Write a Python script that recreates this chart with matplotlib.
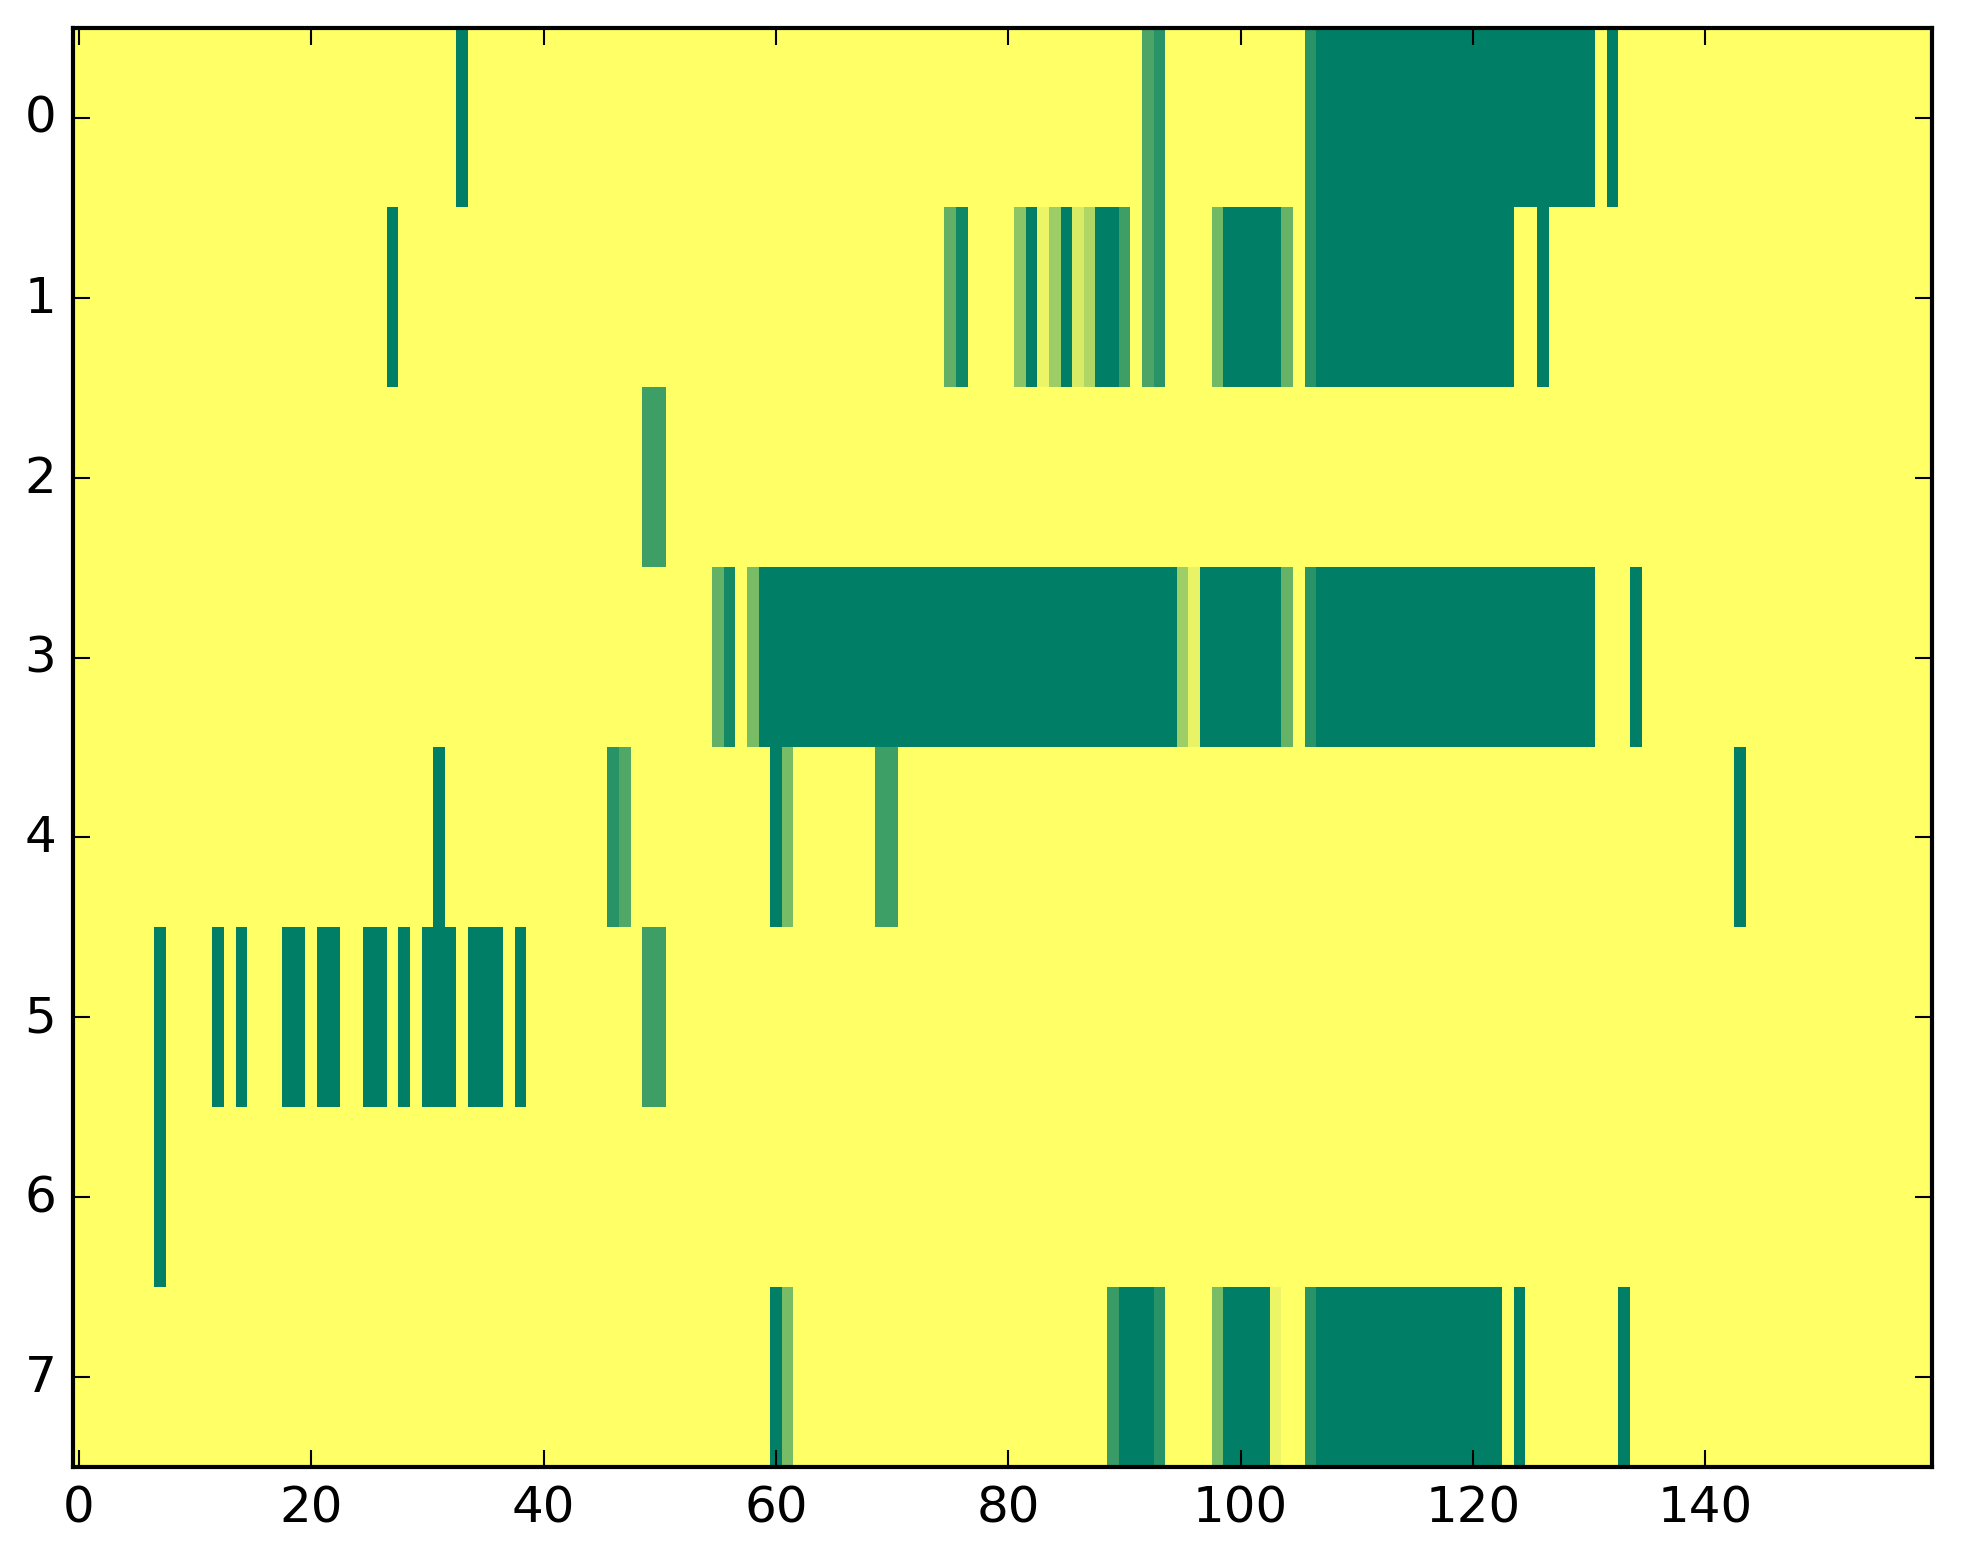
import numpy as np
import matplotlib
matplotlib.use("Agg")
import matplotlib.pyplot as plt

plt.style.use("classic")

n_rows = 8
n_cols = 160

# runs of (first column, last column, value) per row; everything else is 0
row0 = [(33, 33, 1.0), (92, 92, 0.70), (93, 93, 0.84), (106, 106, 0.84),
        (107, 130, 1.0), (132, 132, 1.0)]
row1 = [(27, 27, 1.0), (75, 75, 0.62), (76, 76, 0.93), (81, 81, 0.45),
        (82, 82, 1.0), (83, 83, 0.08), (84, 84, 0.39), (85, 85, 1.0),
        (86, 86, 0.16), (87, 87, 0.31), (88, 89, 1.0), (90, 90, 0.76),
        (92, 92, 0.70), (93, 93, 0.84), (98, 98, 0.55), (99, 103, 1.0),
        (104, 104, 0.60), (106, 106, 0.84), (107, 123, 1.0), (126, 126, 1.0)]
row2 = [(49, 50, 0.76)]
row3 = [(55, 55, 0.61), (56, 56, 0.92), (58, 58, 0.52), (59, 94, 1.0),
        (95, 95, 0.38), (96, 96, 0.09), (97, 103, 1.0), (104, 104, 0.60),
        (106, 106, 0.84), (107, 130, 1.0), (134, 134, 1.0)]
row4 = [(31, 31, 1.0), (46, 46, 0.84), (47, 47, 0.68), (60, 60, 1.0),
        (61, 61, 0.52), (69, 70, 0.76), (143, 143, 1.0)]
row5 = [(7, 7, 1.0), (12, 12, 1.0), (14, 14, 1.0), (18, 19, 1.0),
        (21, 22, 1.0), (25, 26, 1.0), (28, 28, 1.0), (30, 32, 1.0),
        (34, 36, 1.0), (38, 38, 1.0), (49, 50, 0.76)]
row6 = [(7, 7, 1.0)]
row7 = [(60, 60, 1.0), (61, 61, 0.52), (89, 89, 0.77), (90, 92, 1.0),
        (93, 93, 0.84), (98, 98, 0.52), (99, 102, 1.0), (103, 103, 0.08),
        (106, 106, 0.84), (107, 122, 1.0), (124, 124, 1.0), (133, 133, 1.0)]

rows = [row0, row1, row2, row3, row4, row5, row6, row7]

data = np.zeros((n_rows, n_cols))
for r, runs in enumerate(rows):
    for a, b, v in runs:
        data[r, a:b + 1] = v

fig = plt.figure(figsize=(1963 / 300, 1564 / 300), dpi=300, facecolor="white")
ax = fig.add_axes([0.0372, 0.0614, 0.947, 0.9201])
ax.imshow(data, cmap="summer_r", vmin=0, vmax=1, aspect="auto",
          interpolation="nearest")
ax.set_xlim(-0.5, n_cols - 0.5)
ax.set_ylim(n_rows - 0.5, -0.5)
ax.set_xticks(np.arange(0, 160, 20))
ax.set_yticks(np.arange(0, n_rows))

fig.savefig("out.png", dpi=300, facecolor="white")
